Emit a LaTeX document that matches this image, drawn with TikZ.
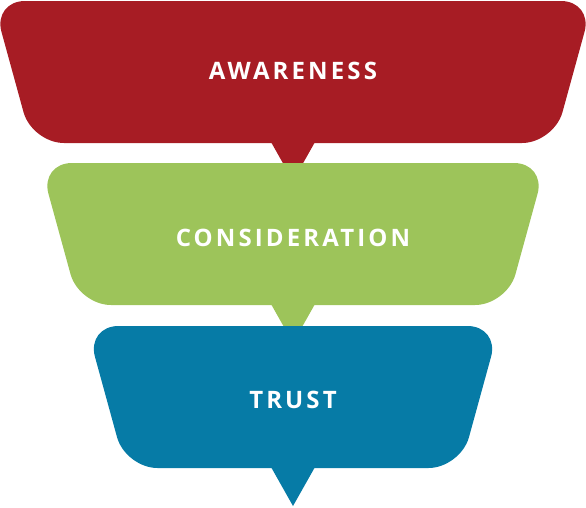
\documentclass[tikz,border=0pt]{standalone}
\usepackage{fontspec}
\newfontfamily\stagefont{Open Sans}[LetterSpace=13]
\definecolor{awarered}{HTML}{A71C24}
\definecolor{considgreen}{HTML}{9DC45A}
\definecolor{trustblue}{HTML}{067BA6}
\tikzset{
  stagebox/.style={rounded corners=32},
  stagetext/.style={text=white,inner sep=0pt,font=\stagefont\bfseries\fontsize{24}{24}\selectfont}
}
\begin{document}
\begin{tikzpicture}[x=1pt,y=-1pt]
\useasboundingbox (0,0) rectangle (586,507);
% top / half width / text offset / colour / name / label
\foreach \t/\h/\ty/\col/\nm/\txt in {1/300/70/awarered/aware/AWARENESS,
    163/253/75/considgreen/consid/CONSIDERATION,
    326/206.5/74/trustblue/trust/TRUST}{
  \fill[\col,stagebox] (293-\h,\t) -- (293+\h,\t) -- (293+\h-39,\t+142)
      -- (293-\h+39,\t+142) -- cycle;
  \fill[\col] (271,\t+141) -- (315,\t+141) -- (293,\t+180) -- cycle;
  \node[stagetext] (\nm) at (293,\t+\ty) {\txt};
}
\end{tikzpicture}
\end{document}
